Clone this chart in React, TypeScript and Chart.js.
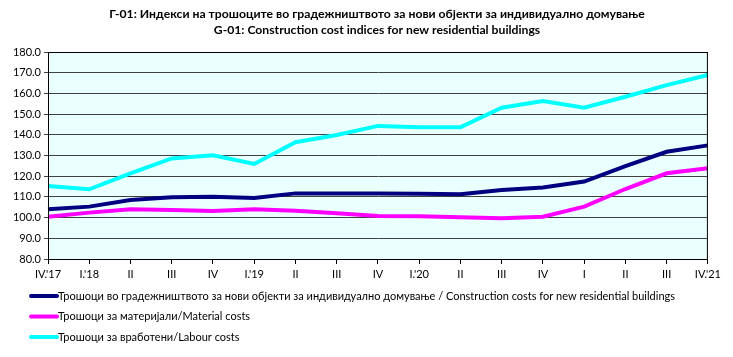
import React, { useEffect, useRef } from "react";
import { Chart, registerables } from "chart.js";

Chart.register(...registerables);

const titleLines = [
  "Г-01: Индекси на трошоците во градежништвото за нови објекти за индивидуално домување",
  "G-01: Construction cost indices for new residential buildings",
];

const quarters = ["IV.'17", "I.'18", "II", "III", "IV", "I.'19", "II", "III", "IV", "I.'20", "II", "III", "IV", "I", "II", "III", "IV.'21"];

const constructionCosts = [104.0, 105.3, 108.5, 109.8, 110.1, 109.5, 111.7, 111.7, 111.7, 111.5, 111.3, 113.3, 114.5, 117.4, 124.9, 131.8, 134.9];
const materialCosts = [100.4, 102.4, 104.0, 103.7, 103.2, 104.0, 103.3, 102.1, 100.8, 100.7, 100.2, 99.7, 100.4, 105.3, 113.8, 121.4, 123.8];
const labourCosts = [115.3, 113.7, 121.4, 128.6, 130.1, 125.9, 136.4, 139.9, 144.3, 143.6, 143.6, 153.1, 156.3, 153.1, 158.4, 164.0, 168.9];

const seriesNames = [
  "Трошоци во градежништвото за нови објекти за индивидуално домување / Construction costs for new residential buildings",
  "Трошоци за материјали/Material costs",
  "Трошоци за вработени/Labour costs",
];
const seriesColors = ["#000080", "#FF00FF", "#00FFFF"];

const FONT = "Lato, 'Open Sans', sans-serif";

const decorPlugin = {
  id: "decor",
  beforeDraw(chart: any) {
    const { ctx, chartArea } = chart;
    ctx.save();
    ctx.fillStyle = "#EAFFFF";
    ctx.fillRect(chartArea.left, chartArea.top, chartArea.right - chartArea.left, chartArea.bottom - chartArea.top);
    ctx.restore();
  },
  afterDraw(chart: any) {
    const { ctx, chartArea } = chart;
    ctx.save();
    ctx.strokeStyle = "#000";
    ctx.lineWidth = 1;
    ctx.strokeRect(chartArea.left + 0.5, chartArea.top + 0.5, chartArea.right - chartArea.left - 1, chartArea.bottom - chartArea.top);
    ctx.fillStyle = "#000";
    ctx.textAlign = "center";
    ctx.textBaseline = "middle";
    ctx.font = `bold 12.2px ${FONT}`;
    const cx = 369;
    ctx.fillText(titleLines[0], cx, 6);
    ctx.fillText(titleLines[1], cx, 22);
    ctx.textAlign = "left";
    ctx.font = `11px ${FONT}`;
    chart.data.datasets.forEach((ds: any, i: number) => {
      const y = chartArea.bottom + 37 + i * 20.5;
      ctx.strokeStyle = ds.borderColor;
      ctx.lineWidth = 4;
      ctx.lineCap = "round";
      ctx.beginPath();
      ctx.moveTo(23, y);
      ctx.lineTo(49, y);
      ctx.stroke();
      ctx.fillStyle = "#000";
      ctx.fillText(ds.label, 50, y);
    });
    ctx.restore();
  },
};

export default function App() {
  const ref = useRef<HTMLCanvasElement | null>(null);
  useEffect(() => {
    if (!ref.current) return;
    const data = [constructionCosts, materialCosts, labourCosts];
    const chart = new Chart(ref.current, {
      type: "line",
      data: {
        labels: quarters,
        datasets: data.map((d, i) => ({
          label: seriesNames[i],
          data: d,
          borderColor: seriesColors[i],
          backgroundColor: seriesColors[i],
          borderWidth: 4,
          pointRadius: 0,
          tension: 0,
          fill: false,
          order: 2 - i,
        })),
      },
      options: {
        animation: false,
        responsive: true,
        maintainAspectRatio: false,
        layout: { padding: { top: 44, right: 15, bottom: 68, left: 0 } },
        plugins: {
          legend: { display: false },
          title: { display: false },
          tooltip: { enabled: false },
        },
        scales: {
          x: {
            offset: false,
            grid: { drawOnChartArea: false, drawTicks: true, tickLength: 5, color: "#000" },
            border: { color: "#000" },
            ticks: { color: "#000", font: { family: FONT, size: 11 }, maxRotation: 0, autoSkip: false, padding: 4 },
            afterFit: (s: any) => { s.height = 22; },
          },
          y: {
            min: 80,
            max: 180,
            grid: { color: "#404040", tickLength: 4, drawTicks: true },
            border: { color: "#000" },
            ticks: {
              stepSize: 10,
              color: "#000",
              font: { family: FONT, size: 11 },
              padding: 3,
              callback: (v: any) => Number(v).toFixed(1),
            },
            afterFit: (s: any) => { s.width = 40; },
          },
        },
      },
      plugins: [decorPlugin],
    });
    return () => chart.destroy();
  }, []);
  return (
    <div style={{ width: 717, height: 341, position: "relative" }}>
      <canvas ref={ref} />
    </div>
  );
}
